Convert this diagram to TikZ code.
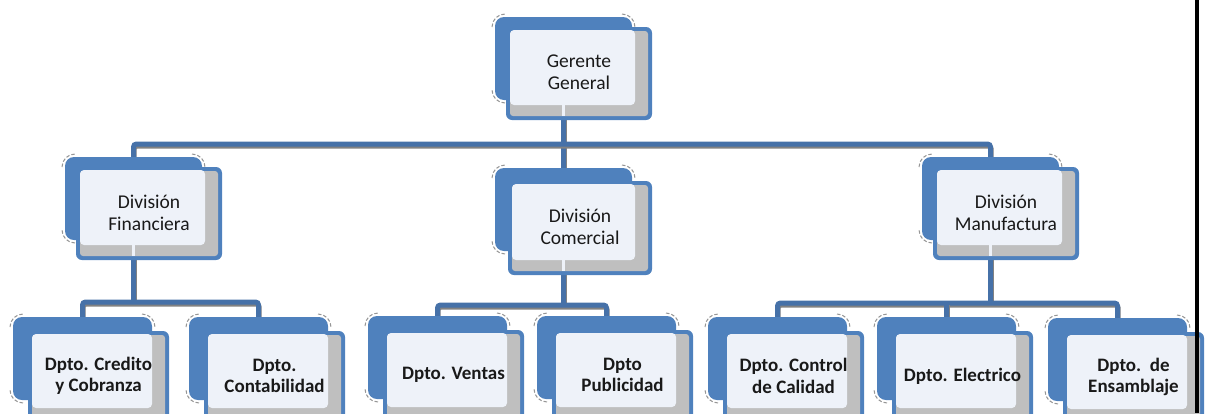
\documentclass[tikz,border=0pt]{standalone}
\usepackage{fontspec}
\setmainfont{Carlito}
\usetikzlibrary{calc,backgrounds}
\definecolor{boxblue}{RGB}{79,129,189}
\definecolor{connblue}{RGB}{70,113,168}
\definecolor{connshadow}{RGB}{130,130,130}
\definecolor{boxgrey}{RGB}{191,191,191}
\definecolor{panelc}{RGB}{238,242,249}
\definecolor{arcgrey}{RGB}{150,150,150}
\newcommand\obw{137}\newcommand\obh{83}\newcommand\odx{11}\newcommand\ody{10}
\newcommand\ofw{146}\newcommand\ofh{93}
\newcommand\otxt{\fontsize{19.5}{22}\selectfont}
\tikzset{
  backbox/.style={fill=boxblue, rounded corners=9pt, inner sep=0pt, outer sep=0pt, anchor=north west},
  frontbox/.style={fill=boxblue, rounded corners=6pt, inner sep=0pt, outer sep=0pt, anchor=north west},
  cornerarc/.style={draw=arcgrey, line width=1pt, dash pattern=on 3.5pt off 2pt},
  boxtext/.style={align=center, inner sep=0pt, font=\otxt, text=black!90},
  conn/.style={line width=5pt, draw=connblue, rounded corners=3pt,
    preaction={draw=connshadow, line width=5pt, transform canvas={shift={(0.6pt,-2pt)}}}}
}
\newcommand\mkbox[4]{%
  \node[backbox, minimum width=\obw pt, minimum height=\obh pt] (#1b) at (#2,#3) {};
  \draw[cornerarc] ($(#1b.north west)+(10,10)$) ++(180:13) arc[start angle=180,end angle=270,radius=13];
  \draw[cornerarc] ($(#1b.north east)+(-10,10)$) ++(270:13) arc[start angle=270,end angle=360,radius=13];
  \draw[cornerarc] ($(#1b.south west)+(10,-10)$) ++(90:13) arc[start angle=90,end angle=180,radius=13];
  \node[frontbox, minimum width=\ofw pt, minimum height=\ofh pt] (#1) at ($(#1b.north west)+(\odx,\ody)$) {};
  \fill[boxgrey, rounded corners=3pt] ($(#1.north west)+(4,4)$) rectangle ($(#1.south east)+(-4,-4)$);
  \fill[panelc, rounded corners=4pt] ($(#1.north west)+(4,3)$) rectangle ($(#1.south east)+(-17,-15)$);
  \node[boxtext] (#1t) at ($(#1.center)+(0,-1)$) {#4};
}
\newcommand\mkstripe[1]{%
  \fill[panelc] ($(#1b.center |- #1.south)+(-1.5,-15.5)$) rectangle ($(#1b.center |- #1.south)+(1.5,-4)$);
}
\begin{document}
\begin{tikzpicture}[x=1pt,y=-1pt]
\useasboundingbox (0,0) rectangle (1205,413);
% top level
\mkbox{G}{495}{17}{Gerente\\General}\mkstripe{G}
\mkbox{F}{65}{157}{División\\Financiera}\mkstripe{F}
\mkbox{M}{922}{157}{División\\Manufactura}\mkstripe{M}
\renewcommand\odx{13}\renewcommand\ody{13}\renewcommand\ofw{144}\renewcommand\ofh{94}
\mkbox{C}{495}{168}{División\\Comercial}\mkstripe{C}
% children
\renewcommand\obw{139}\renewcommand\obh{83}\renewcommand\odx{15}\renewcommand\ody{14}
\renewcommand\ofw{141}\renewcommand\ofh{92}
\renewcommand\otxt{\fontsize{19}{21.5}\selectfont\bfseries}
\mkbox{c1}{13}{317}{Dpto. Credito\\y Cobranza}
\mkbox{c2}{189}{317}{Dpto.\\Contabilidad}
\mkbox{c3}{368}{316}{Dpto. Ventas}
\mkbox{c4}{537}{316}{Dpto\\Publicidad}
\mkbox{c5}{708}{317}{Dpto. Control\\de Calidad}
\mkbox{c6}{877}{317}{Dpto. Electrico}
\mkbox{c7}{1048}{318}{Dpto.\ \ de\\Ensamblaje}
% bus levels
\coordinate (busG) at (0,144);
\coordinate (busF) at (0,302);
\coordinate (busC) at (0,305);
\coordinate (busM) at (0,303);
\begin{pgfonlayer}{background}
  \draw[conn] (Gb.center) -- (Cb.north);
  \draw[conn] (Fb.north) |- (Gb.center |- busG) -| (Mb.north);
  \draw[conn] (Fb.center) -- (Fb.center |- busF);
  \draw[conn] (c1b.north) |- (Fb.center |- busF) -| (c2b.north);
  \draw[conn] (Cb.center) -- (Cb.center |- busC);
  \draw[conn] (c3b.north) |- (Cb.center |- busC) -| (c4b.north);
  \draw[conn] (Mb.center) -- (Mb.center |- busM);
  \draw[conn] (c5b.north) |- (Mb.center |- busM) -| (c7b.north);
  \draw[conn] (c6b.north) -- (c6b.north |- busM);
\end{pgfonlayer}
% right edge rule
\fill[black] (1195,0) rectangle (1199,413);
\end{tikzpicture}
\end{document}
